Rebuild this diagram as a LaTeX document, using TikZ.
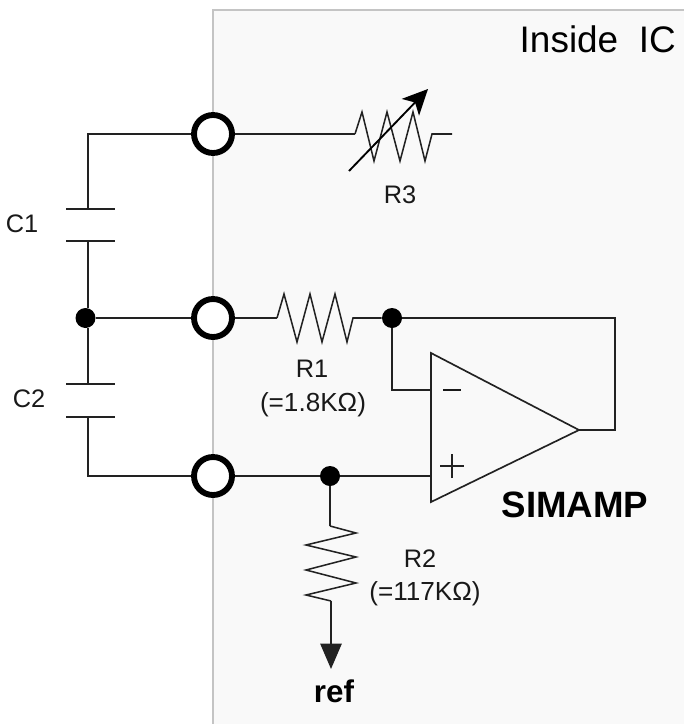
\documentclass[tikz,border=0pt]{standalone}
\usepackage{fontspec}
\setmainfont{Liberation Sans}
\usetikzlibrary{arrows.meta,positioning}
\definecolor{panelgray}{HTML}{F9F9F9}
\definecolor{panelline}{HTML}{C4C4C4}
\definecolor{wirecolor}{HTML}{222222}

\begin{document}
\begin{tikzpicture}[x=0.75pt,y=-0.75pt,
wire/.style={draw=wirecolor,line width=1.25pt,line join=miter},
zigzag/.style={draw=wirecolor,line width=1.15pt,line join=miter},
pad/.style={circle,draw=black,line width=4.4pt,fill=white,inner sep=0pt,minimum size=28.5pt},
junction/.style={circle,fill=black,inner sep=0pt,minimum size=15pt},
plate/.style={draw=wirecolor,line width=1.25pt},
small/.style={font=\fontsize{19pt}{21pt}\selectfont,inner sep=0pt,text=black!90},
value/.style={font=\fontsize{19.6pt}{21pt}\selectfont,inner sep=0pt,text=black!90},
big/.style={font=\fontsize{27.7pt}{30pt}\selectfont,inner sep=0pt},
boldlabel/.style={font=\fontsize{27.5pt}{30pt}\selectfont\bfseries,inner sep=0pt},
to/.style={-{Stealth[length=19pt,width=18pt,inset=5pt]},draw=black,line width=1.4pt},
toground/.style={-{Triangle[length=19pt,width=16pt]},wire},
]
\useasboundingbox (0,0) rectangle (684,724);

% panel of the chip
\fill[panelgray] (213,10) rectangle (684,724);
\draw[panelline,line width=1pt] (213,724) -- (213,10) -- (684,10);

\coordinate (c1top) at (88,134);
\coordinate (c1a) at (88,209);
\coordinate (c1b) at (88,241);
\coordinate (c2a) at (88,384);
\coordinate (c2b) at (88,417);
\coordinate (c2bottom) at (88,476);
\coordinate (feedback) at (615,318);
\coordinate (feedback2) at (615,430);
\coordinate (amptop) at (431,353);
\coordinate (ampbot) at (431,502);
\coordinate (ampout) at (579,430);
\coordinate (ampminus) at (431,390);
\coordinate (ampplus) at (431,476);
\coordinate (minuscorner) at (392,390);
\coordinate (r3in) at (355,134);
\coordinate (r3end) at (452,134);
\coordinate (r1in) at (277,318);
\coordinate (r2in) at (330,526);
\coordinate (r2out) at (331,601);
\coordinate (refend) at (331,669);
\coordinate (r3tail) at (349,171);
\coordinate (r3head) at (428,89);

\node (pad1) [pad] at (213,134) {};
\node (pad2) [pad,below of=pad1,node distance=138pt] {};
\node (pad3) [pad,below of=pad2,node distance=118.5pt] {};
\node (dotleft) [junction] at (85.5,318) {};
\node (dotr1) [junction] at (392,318) {};
\node (dotr2) [junction] at (330,476) {};

\draw[wire] (pad1) -- (c1top) -- (c1a);
\draw[wire] (c1b) -- (c1b |- dotleft.north);
\draw[wire] (c2a) -- (c2a |- dotleft.south);
\draw[wire] (c2b) -- (c2bottom) -- (pad3);
\draw[wire] (dotleft) -- (pad2);
\draw[plate] ([xshift=-16.5pt]c1a) -- ([xshift=20pt]c1a);
\draw[plate] ([xshift=-16.5pt]c1b) -- ([xshift=20pt]c1b);
\draw[plate] ([xshift=-16.5pt]c2a) -- ([xshift=20pt]c2a);
\draw[plate] ([xshift=-16.5pt]c2b) -- ([xshift=20pt]c2b);

\draw[wire] (pad1) -- (r3in);
\draw[zigzag] (r3in) -- (362,112) -- (374,161) -- (387,112) -- (400,161) -- (413,112) -- (425,161) -- (432,134) -- (r3end);
\draw[to] (r3tail) -- (r3head);

\draw[wire] (pad2) -- (r1in);
\draw[zigzag] (r1in) -- (284,294) -- (297,342) -- (310,294) -- (322,342) -- (335,294) -- (347,342) -- (353,318) -- (dotr1);
\draw[wire] (dotr1) -- (feedback) -- (feedback2) -- (ampout);
\draw[wire] (dotr1) -- (minuscorner) -- (ampminus);
\draw[wire] (pad3) -- (dotr2) -- (ampplus);
\draw[wire] (amptop) -- (ampout) -- (ampbot) -- cycle;

\draw[wire] (dotr2) -- (r2in);
\draw[zigzag] (r2in) -- (356,533) -- (306,545) -- (356,557) -- (306,570) -- (356,583) -- (306,595) -- (r2out);
\draw[toground] (r2out) -- (refend);

% signs of the inputs
\node (minussign) [small] at (452,390) {\rule{13.5pt}{1pt}};
\node (plussign) [small] at (452,466) {};
\draw[wire,line width=1pt] ([xshift=-9pt]plussign.center) -- ([xshift=9pt]plussign.center);
\draw[wire,line width=1pt] ([yshift=-9pt]plussign.center) -- ([yshift=9pt]plussign.center);

\node (inside) [big,anchor=base east] at (676,53) {Inside\ \ IC};
\node (labelr3) [small] at (400,195) {R3};
\node (labelc1) [small] at (22,224) {C1};
\node (labelc2) [small] at (29,399) {C2};
\node (labelr1) [small] at (312,369) {R1};
\node (valuer1) [value] at (313,405) {(=1.8KΩ)};
\node (labelr2) [small] at (420,559) {R2};
\node (valuer2) [value] at (425,594) {(=117KΩ)};
\node (simamp) [boldlabel] at (575,505) {SIMAMP};
\node (ref) [boldlabel,font=\fontsize{23.5pt}{26pt}\selectfont\bfseries,anchor=base] at (334,702) {ref};
\end{tikzpicture}
\end{document}
